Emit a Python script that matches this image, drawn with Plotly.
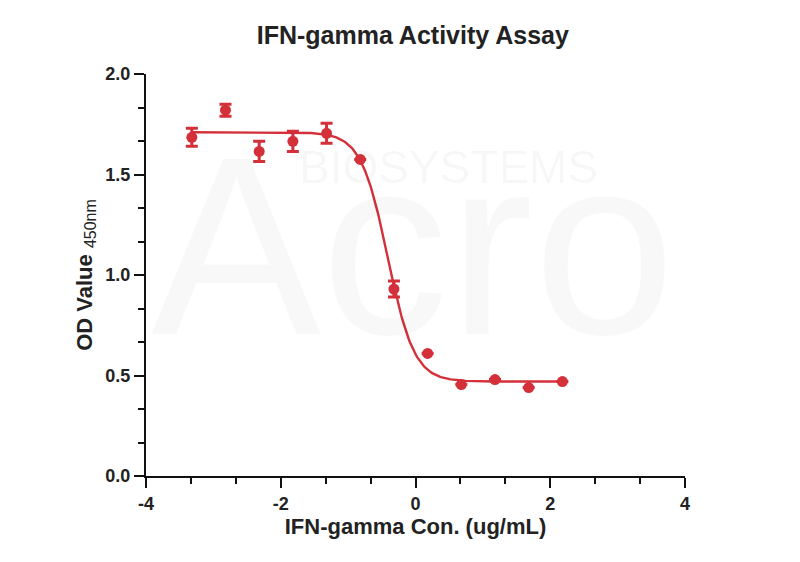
import numpy as np
import plotly.graph_objects as go

# Data (log10 concentration, OD450)
log_conc = [-3.32, -2.82, -2.32, -1.82, -1.32, -0.82, -0.32, 0.18, 0.68, 1.18, 1.68, 2.18]
od_mean = [1.685, 1.82, 1.615, 1.665, 1.705, 1.575, 0.93, 0.61, 0.455, 0.48, 0.44, 0.47]
od_err = [0.045, 0.03, 0.05, 0.05, 0.05, 0.0, 0.04, 0.0, 0.0, 0.0, 0.0, 0.0]

# 4PL fit parameters
fit_top = 1.71
fit_bottom = 0.47
fit_logec50 = -0.413
fit_hill = 2.2

x_ticks = [-4, -2, 0, 2, 4]
y_ticks = [0.0, 0.5, 1.0, 1.5, 2.0]

RED = "#d3303a"

xf = np.linspace(min(log_conc), max(log_conc), 300)
yf = fit_bottom + (fit_top - fit_bottom) / (1 + 10 ** ((xf - fit_logec50) * fit_hill))

fig = go.Figure()
fig.add_trace(go.Scatter(x=xf, y=yf, mode="lines", line=dict(color=RED, width=2.4),
                         hoverinfo="skip", showlegend=False))
fig.add_trace(go.Scatter(x=log_conc, y=od_mean, mode="markers",
                         marker=dict(color=RED, size=11),
                         error_y=dict(type="data", array=od_err, color=RED, thickness=3, width=6),
                         showlegend=False))

font = "Liberation Sans, Arial, sans-serif"

# very faint watermark
fig.add_annotation(text="Acro", x=0.005, y=0.214, xref="paper", yref="paper", showarrow=False,
                   xanchor="left", yanchor="bottom",
                   font=dict(family=font, size=255, color="rgba(0,0,0,0.028)"))
fig.add_annotation(text="BIOSYSTEMS", x=0.562, y=0.769, xref="paper", yref="paper", showarrow=False,
                   xanchor="center", yanchor="middle",
                   font=dict(family=font, size=46, color="rgba(0,0,0,0.04)"))

fig.update_layout(
    width=800, height=562,
    margin=dict(l=146, r=115, t=74, b=86),
    paper_bgcolor="white", plot_bgcolor="white",
    font=dict(family=font, color="#222"),
    title=dict(text="<b>IFN-gamma Activity Assay</b>", x=0.516, xanchor="center", y=0.938,
               yanchor="middle", font=dict(size=25, color="#222")),
)
fig.update_xaxes(
    range=[-4, 4], tickvals=x_ticks, ticktext=[str(v) for v in x_ticks],
    showgrid=False, zeroline=False, showline=True, linecolor="#111", linewidth=2,
    ticks="outside", ticklen=10, tickwidth=2, tickcolor="#111",
    tickfont=dict(size=18, weight="bold", color="#222"),
    minor=dict(dtick=2/3, tick0=-4, ticks="outside", ticklen=6, tickwidth=2, tickcolor="#111"),
    title=dict(text="<b>IFN-gamma Con. (ug/mL)</b>", font=dict(size=22, color="#222"), standoff=3),
)
fig.update_yaxes(
    range=[0, 2], tickvals=y_ticks, ticktext=[f"{v:.1f}" for v in y_ticks],
    showgrid=False, zeroline=False, showline=True, linecolor="#111", linewidth=2,
    ticks="outside", ticklen=10, tickwidth=2, tickcolor="#111",
    tickfont=dict(size=18, weight="bold", color="#222"),
    minor=dict(dtick=0.5/3, tick0=0, ticks="outside", ticklen=6, tickwidth=2, tickcolor="#111"),
    title=dict(text="<b>OD Value </b><sub><span style='font-size:16px'>450nm</span></sub>",
               font=dict(size=22, color="#222"), standoff=7),
)

fig.write_html("out.html")
